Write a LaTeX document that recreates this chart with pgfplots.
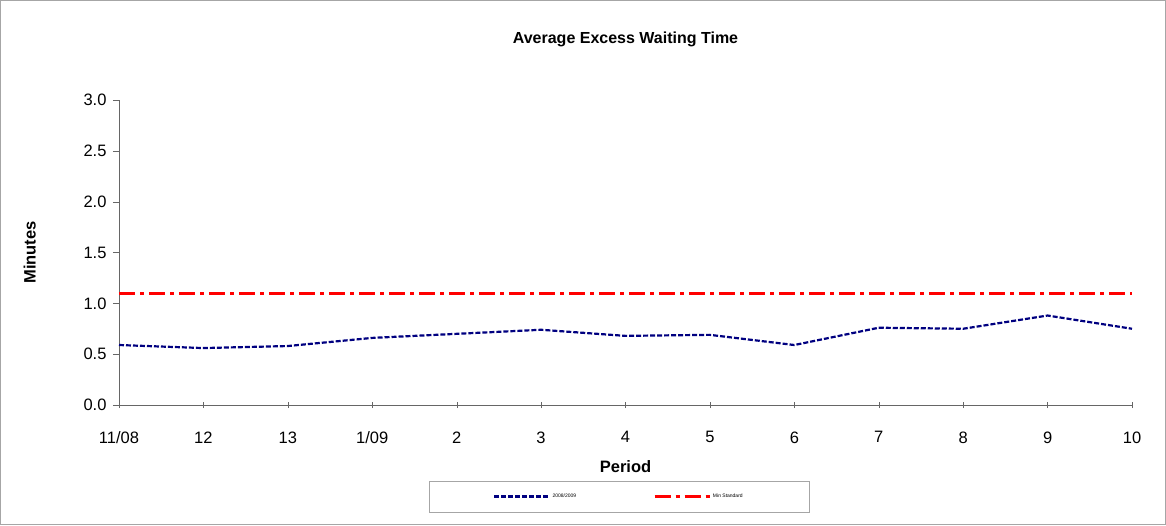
\documentclass[border=0pt]{standalone}
\usepackage{pgfplots}
\pgfplotsset{compat=1.18}
\usepackage{fontspec}
\setmainfont{Liberation Sans}
\definecolor{navy}{RGB}{0,0,128}
\begin{document}
\begin{tikzpicture}
\draw[gray!70,line width=0.8pt] (0.4pt,0.4pt) rectangle (1165.6pt,524.6pt);
\begin{axis}[
  at={(119pt,120pt)}, anchor=south west,
  scale only axis, width=1013pt, height=305pt,
  axis lines=left, axis line style={-, gray!80!black},
  xmin=0, xmax=12, ymin=0, ymax=3,
  xtick={0,...,12},
  xticklabels={11/08,12,13,1/09,2,3,4,5,6,7,8,9,10},
  ytick={0,0.5,...,3},
  yticklabel style={/pgf/number format/fixed,/pgf/number format/fixed zerofill,/pgf/number format/precision=1, xshift=-3pt},
  xticklabel style={yshift=-20pt},
  /pgf/number format/assume math mode=true,
  tick style={gray!80!black, major tick length=6pt},
  xtick align=center, ytick align=outside,
  ticklabel style={font=\fontsize{16.5pt}{18pt}\selectfont},
  xlabel={\bfseries Period}, ylabel={\bfseries Minutes},
  xlabel style={font=\fontsize{16.5pt}{18pt}\selectfont, yshift=-10pt},
  ylabel style={font=\fontsize{16.5pt}{18pt}\selectfont, yshift=41pt},
  title={\bfseries Average Excess Waiting Time},
  title style={font=\fontsize{16pt}{18pt}\selectfont, at={(0.5,1)}, yshift=44pt},
  legend style={at={(0.4936,-0.3)}, anchor=center, draw=gray!70, font=\fontsize{5pt}{6pt}\selectfont,
    inner xsep=64pt, inner ysep=11pt},
  legend columns=2,
  legend image code/.code={\draw[#1] (0pt,0pt) -- (55pt,0pt);},
  /tikz/every even column/.append style={column sep=75pt},
  legend cell align=left,
]
\addplot[navy, line width=2.2pt, dash pattern=on 5pt off 2pt] coordinates {
(0,0.59)(1,0.56)(2,0.58)(3,0.66)(4,0.70)(5,0.74)(6,0.68)(7,0.69)(8,0.59)(9,0.76)(10,0.75)(11,0.88)(12,0.75)};
\addlegendentry{2008/2009}
\addplot[red, line width=2.8pt, dash pattern=on 16pt off 5pt on 4pt off 5pt] coordinates {(0,1.1)(12,1.1)};
\addlegendentry{Min Standard}
\end{axis}
\end{tikzpicture}
\end{document}
